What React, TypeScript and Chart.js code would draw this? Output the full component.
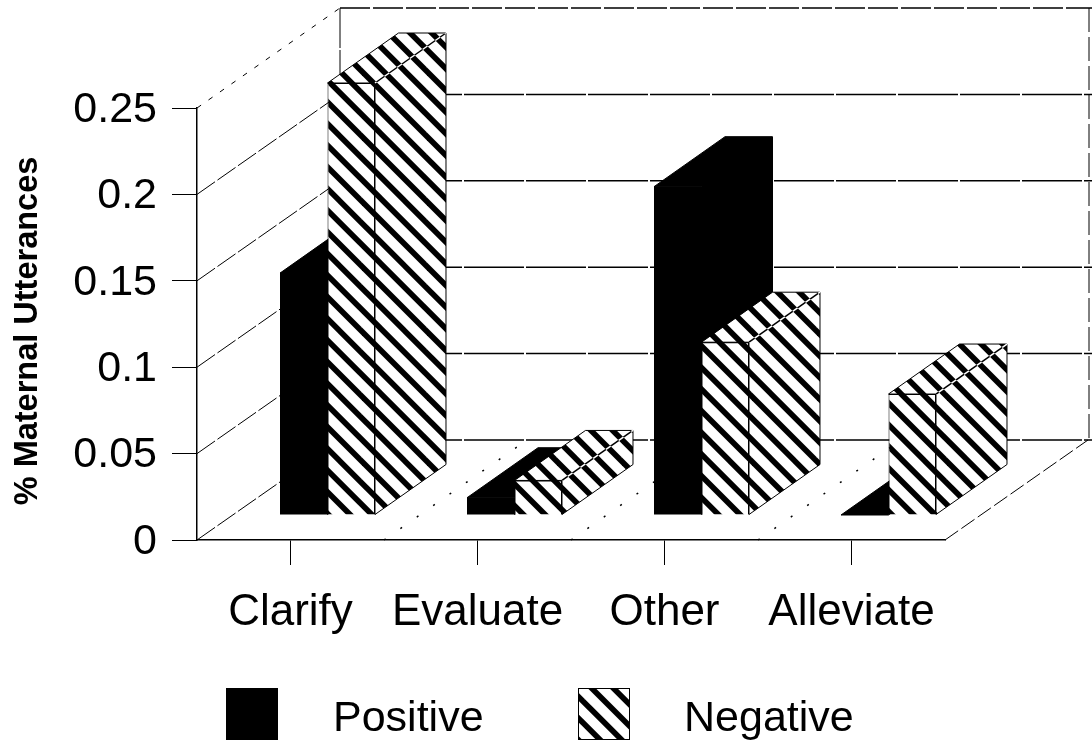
import React, { useEffect, useRef } from "react";
import { Chart, registerables } from "chart.js";

Chart.register(...registerables);

const categories = ["Clarify", "Evaluate", "Other", "Alleviate"];
const positive = [0.14, 0.01, 0.19, 0];
const negative = [0.25, 0.02, 0.1, 0.07];
const yTicks = [0, 0.05, 0.1, 0.15, 0.2, 0.25];
const yTitle = "% Maternal Utterances";

const FONT = '"Liberation Sans", Arial, sans-serif';

// Oblique projection of the floor: full depth of the box, and the block that bars occupy inside it.
const WALL_DX = 143;
const WALL_DY = -100;
const BAR_SHIFT_X = 37;
const BAR_SHIFT_Y = -25;
const BAR_DX = 71;
const BAR_DY = -50;

// Three stripe periods fit the tile exactly, so it repeats without a seam.
function makeStripes(ctx: CanvasRenderingContext2D): CanvasPattern {
  const size = 65;
  const period = size / 3;
  const phase = 5.83;
  const thickness = 8;
  const tile = document.createElement("canvas");
  tile.width = size;
  tile.height = size;
  const t = tile.getContext("2d")!;
  t.fillStyle = "#fff";
  t.fillRect(0, 0, size, size);
  t.fillStyle = "#000";
  for (let k = -5; k <= 2; k++) {
    const y0 = k * period + phase;
    t.beginPath();
    t.moveTo(0, y0);
    t.lineTo(size, y0 + size);
    t.lineTo(size, y0 + size + thickness);
    t.lineTo(0, y0 + thickness);
    t.closePath();
    t.fill();
  }
  return ctx.createPattern(tile, "repeat")!;
}

function line(
  ctx: CanvasRenderingContext2D,
  x1: number,
  y1: number,
  x2: number,
  y2: number,
  dash: number[] = [],
  width = 1
) {
  ctx.save();
  ctx.setLineDash(dash);
  ctx.lineWidth = width;
  ctx.strokeStyle = "#000";
  ctx.beginPath();
  ctx.moveTo(x1, y1);
  ctx.lineTo(x2, y2);
  ctx.stroke();
  ctx.restore();
}

// Walls, floor and bars, all placed from the chart's own scales. Bars go left to right,
// so each series' front face covers the side of the one before it.
const boxPlugin = {
  id: "box3d",
  beforeDatasetsDraw(chart: any) {
    const { ctx, scales } = chart;
    const y = scales.y;
    const x = scales.x;
    const L = x.left;
    const R = x.right;
    const B = y.bottom;
    const T = y.top;

    yTicks.forEach((v, i) => {
      const p = y.getPixelForValue(v);
      const top = i === yTicks.length - 1;
      line(ctx, L + WALL_DX, p + WALL_DY, R + WALL_DX + 4, p + WALL_DY, top ? [30, 3] : [60, 2], 1.5);
      line(ctx, L, p, L + WALL_DX, p + WALL_DY, top ? [5, 9] : [22, 3]);
    });
    line(ctx, L + WALL_DX, T + WALL_DY, L + WALL_DX, B + WALL_DY, [40, 2]);
    line(ctx, R + WALL_DX + 1, T + WALL_DY, R + WALL_DX + 1, B + WALL_DY, [24, 5]);
    line(ctx, R, B, R + WALL_DX, B + WALL_DY, [16, 4]);

    // Dotted floor dividers between the category groups.
    const step = x.width / categories.length;
    for (let i = 1; i < categories.length; i++) {
      const x0 = L + i * step;
      line(ctx, x0, B, x0 + WALL_DX, B + WALL_DY, [2, 18], 1.5);
    }

    chart.data.datasets.forEach((ds: any, index: number) => {
      const meta = chart.getDatasetMeta(index);
      ctx.save();
      ctx.translate(BAR_SHIFT_X, BAR_SHIFT_Y);
      ctx.fillStyle = ds.backgroundColor;
      meta.data.forEach((el: any) => {
        const l = el.x - el.width / 2;
        const r = el.x + el.width / 2;
        ctx.beginPath();
        ctx.moveTo(l, el.y);
        ctx.lineTo(l + BAR_DX, el.y + BAR_DY);
        ctx.lineTo(r + BAR_DX, el.y + BAR_DY);
        ctx.lineTo(r + BAR_DX, el.base + BAR_DY);
        ctx.lineTo(r, el.base);
        ctx.lineTo(r, el.y);
        ctx.closePath();
        ctx.fill();
        ctx.strokeStyle = "#000";
        ctx.lineWidth = 1;
        ctx.stroke();
      });
      meta.controller.draw();
      if (typeof ds.backgroundColor !== "string") {
        // The fold between top and side reverses the stripes it crosses.
        ctx.globalCompositeOperation = "difference";
        ctx.strokeStyle = "#fff";
        ctx.lineWidth = 1.5;
        meta.data.forEach((el: any) => {
          const r = el.x + el.width / 2;
          ctx.beginPath();
          ctx.moveTo(r, el.y);
          ctx.lineTo(r + BAR_DX, el.y + BAR_DY);
          ctx.stroke();
        });
      }
      ctx.restore();
    });
  },
  // The bars are already on the canvas; skip the default pass.
  beforeDatasetDraw() {
    return false;
  },
  afterDraw(chart: any) {
    const { ctx } = chart;

    ctx.save();
    ctx.translate(37, 331);
    ctx.rotate(-Math.PI / 2);
    ctx.fillStyle = "#000";
    ctx.font = `bold 32.5px ${FONT}`;
    ctx.textAlign = "center";
    ctx.textBaseline = "alphabetic";
    ctx.fillText(yTitle, 0, 0);
    ctx.restore();

    const swatches = [226, 578];
    const labels = [333, 684];
    chart.data.datasets.forEach((ds: any, i: number) => {
      ctx.fillStyle = ds.backgroundColor;
      ctx.fillRect(swatches[i], 688, 52, 52);
      ctx.strokeStyle = "#000";
      ctx.lineWidth = 1;
      ctx.strokeRect(swatches[i] + 0.5, 688.5, 51, 51);
      ctx.fillStyle = "#000";
      ctx.font = `43px ${FONT}`;
      ctx.textAlign = "left";
      ctx.textBaseline = "alphabetic";
      ctx.fillText(ds.label, labels[i], 731);
    });
  },
};

export default function App() {
  const ref = useRef<HTMLCanvasElement>(null);

  useEffect(() => {
    const canvas = ref.current!;
    const stripes = makeStripes(canvas.getContext("2d")!);
    const chart = new Chart(canvas, {
      type: "bar",
      data: {
        labels: categories,
        datasets: [
          {
            label: "Positive",
            data: positive,
            backgroundColor: "#000",
            borderColor: "#000",
            borderWidth: 0,
            clip: false,
          },
          {
            label: "Negative",
            data: negative,
            backgroundColor: stripes,
            borderColor: "#000",
            borderWidth: 1,
            clip: false,
          },
        ] as any,
      },
      options: {
        responsive: false,
        animation: false,
        layout: { padding: { top: 108, right: 147, left: 0, bottom: 0 } },
        datasets: { bar: { categoryPercentage: 0.508, barPercentage: 1 } },
        plugins: { legend: { display: false }, tooltip: { enabled: false } },
        scales: {
          x: {
            afterFit(s: any) {
              s.height = 203;
            },
            grid: { offset: false, drawOnChartArea: false, tickLength: 25, color: "#000" },
            border: { color: "#000", width: 1.5 },
            ticks: { color: "#000", font: { family: FONT, size: 44 }, padding: 21, maxRotation: 0 },
          },
          y: {
            min: 0,
            max: 0.25,
            afterFit(s: any) {
              s.width = 197;
            },
            grid: { drawOnChartArea: false, tickLength: 25, color: "#000" },
            border: { color: "#000", width: 1.5 },
            ticks: {
              stepSize: 0.05,
              color: "#000",
              font: { family: FONT, size: 43 },
              padding: 15,
              labelOffset: 2,
              callback: (v: any) => String(+Number(v).toFixed(2)),
            },
          },
        },
      } as any,
      plugins: [boxPlugin as any],
    });
    return () => chart.destroy();
  }, []);

  return (
    <div style={{ position: "absolute", left: 0, top: 0, width: 1092, height: 743, background: "#fff" }}>
      <canvas ref={ref} width={1092} height={743} style={{ display: "block" }} />
    </div>
  );
}
